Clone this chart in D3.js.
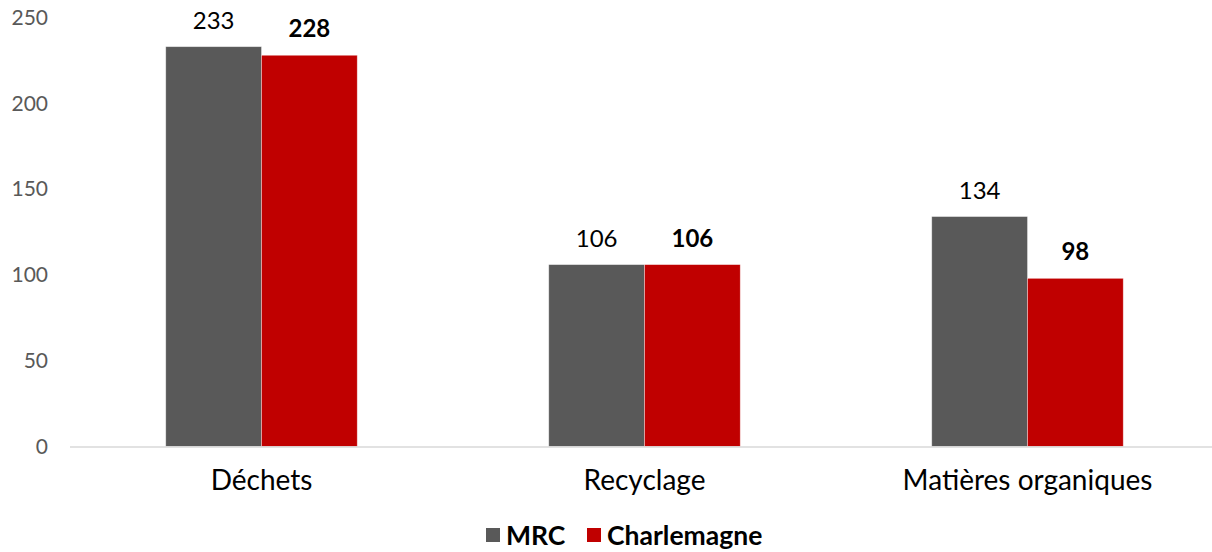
<!DOCTYPE html>
<html><head><meta charset="utf-8">
<script src="https://cdn.jsdelivr.net/npm/d3@7"></script>
<style>body{margin:0;background:#fff}svg{display:block}text{font-family:Lato,"Open Sans",sans-serif}</style>
</head><body>
<svg id="c" width="1212" height="552"></svg>
<script>
const categories = ["Déchets", "Recyclage", "Matières organiques"];
const seriesNames = ["MRC", "Charlemagne"];
const mrcValues = [233, 106, 134];
const charlemagneValues = [228, 106, 98];
const yTicks = [0, 50, 100, 150, 200, 250];
const colors = ["#595959", "#C00000"];

const svg = d3.select("#c");
const x = d3.scaleBand().domain(categories).range([70, 1219]).paddingInner(0.5).paddingOuter(0.25);
const xs = d3.scaleBand().domain(seriesNames).range([0, x.bandwidth()]);
const y = d3.scaleLinear().domain([0, 250]).range([446.5, 17.5]);

const data = categories.map((c, i) => ({cat: c, vals: [mrcValues[i], charlemagneValues[i]]}));

// y tick labels
svg.append("g").selectAll("text").data(yTicks).join("text")
  .attr("x", 48).attr("y", d => y(d)).attr("dy", "0.35em")
  .attr("text-anchor", "end").attr("fill", "#595959").attr("font-size", 21)
  .text(d => d);

// bars
const g = svg.append("g").selectAll("g").data(data).join("g")
  .attr("transform", d => `translate(${x(d.cat)},0)`);
g.selectAll("rect").data(d => d.vals.map((v, j) => ({v, s: seriesNames[j], j}))).join("rect")
  .attr("x", d => xs(d.s)).attr("width", xs.bandwidth())
  .attr("y", d => y(d.v)).attr("height", d => y(0) - y(d.v))
  .attr("fill", d => colors[d.j]).attr("stroke", "#fff").attr("stroke-opacity", 0.5).attr("stroke-width", 0.75);
g.selectAll("text").data(d => d.vals.map((v, j) => ({v, s: seriesNames[j], j}))).join("text")
  .attr("x", d => xs(d.s) + xs.bandwidth() / 2).attr("y", d => y(d.v) - 18)
  .attr("text-anchor", "middle").attr("fill", "#000").attr("font-size", 24)
  .attr("font-weight", d => d.j === 1 ? "bold" : "normal")
  .text(d => d.v);

// baseline axis
svg.append("line").attr("x1", 70).attr("x2", 1212).attr("y1", y(0) + 0.5).attr("y2", y(0) + 0.5)
  .attr("stroke", "#D9D9D9").attr("stroke-width", 1.5);

// category labels
svg.append("g").selectAll("text").data(categories).join("text")
  .attr("x", d => x(d) + x.bandwidth() / 2).attr("y", 490)
  .attr("text-anchor", "middle").attr("fill", "#000").attr("font-size", 28)
  .text(d => d);

// legend
const leg = [{n: "MRC", sx: 486, tx: 506}, {n: "Charlemagne", sx: 587, tx: 607}];
const lg = svg.append("g").selectAll("g").data(leg).join("g");
lg.append("rect").attr("x", d => d.sx).attr("y", 528).attr("width", 14).attr("height", 14)
  .attr("fill", (d, i) => colors[i]);
lg.append("text").attr("x", d => d.tx).attr("y", 536).attr("dy", "0.35em")
  .attr("font-size", 26.5).attr("font-weight", "bold").attr("fill", "#000").text(d => d.n);
</script>
</body></html>
